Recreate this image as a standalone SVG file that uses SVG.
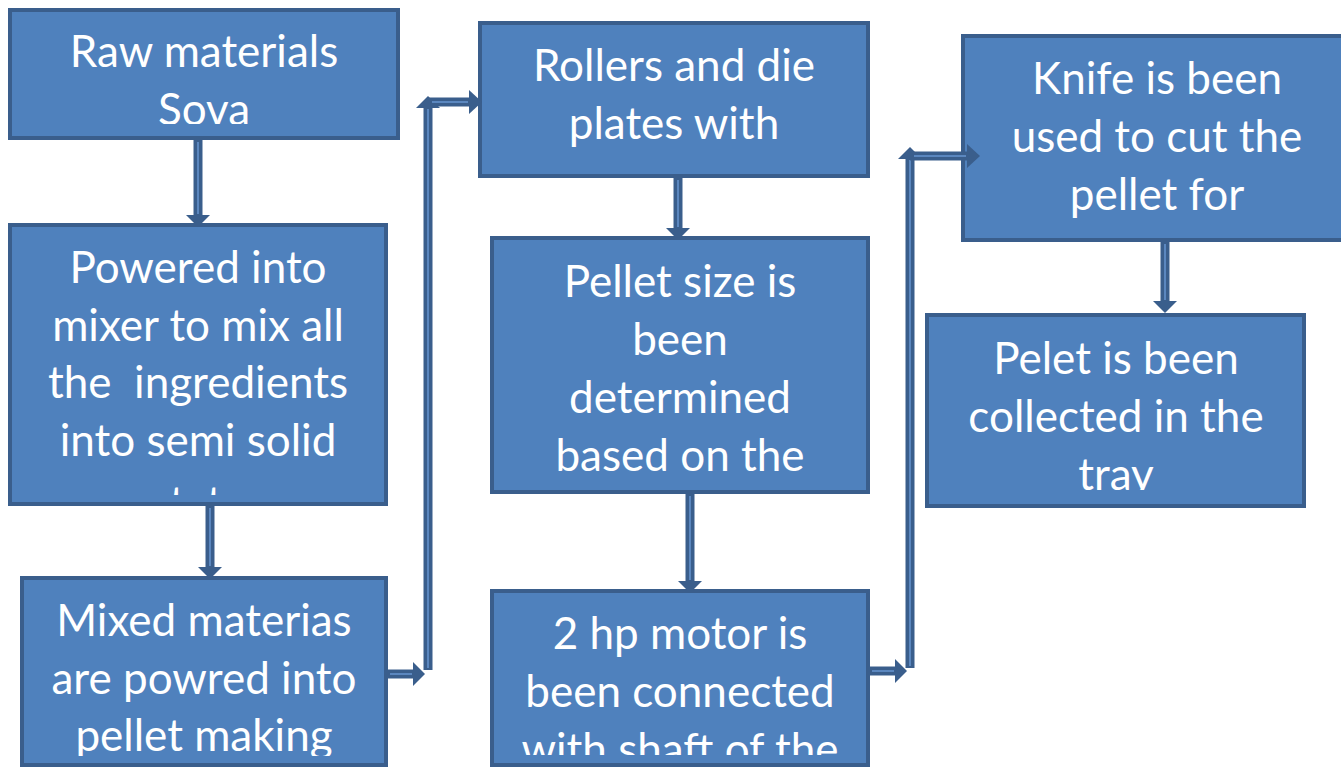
<svg xmlns="http://www.w3.org/2000/svg" width="1341" height="767" viewBox="0 0 1341 767">
<style>
.box{fill:#4F81BD;stroke:#3A5E8C;stroke-width:4}
.t{font-family:Lato,"Open Sans","Liberation Sans",sans-serif;font-size:44px;font-weight:400;fill:#FFFFFF;text-anchor:middle}
.sh{fill:none;stroke:#3A5E8C;stroke-width:9}
.hl{fill:none;stroke:#5B87BF;stroke-width:2}
.hd{fill:#3A5E8C}
</style>
<defs>
<clipPath id="c1"><rect x="10" y="10" width="388" height="114"/></clipPath>
<clipPath id="c2"><rect x="10" y="225" width="376" height="270"/></clipPath>
<clipPath id="c3"><rect x="22" y="578" width="364" height="178"/></clipPath>
<clipPath id="c5"><rect x="492" y="237" width="376" height="245"/></clipPath>
<clipPath id="c6"><rect x="492" y="590" width="376" height="165"/></clipPath>
<clipPath id="c8"><rect x="927" y="314" width="377" height="176"/></clipPath>
</defs>
<rect width="1341" height="767" fill="#FFFFFF"/>
<g id="n1">
<rect class="box" x="10" y="10" width="388" height="128"/>
<g clip-path="url(#c1)"><text class="t" x="204" y="67">Raw materials</text><text class="t" x="204" y="125">Sova</text></g>
</g>
<g id="n2">
<rect class="box" x="10" y="225" width="376" height="279"/>
<g clip-path="url(#c2)"><text class="t" x="198" y="283">Powered into</text><text class="t" x="198" y="341">mixer to mix all</text><text class="t" x="198" y="398" xml:space="preserve">the  ingredients</text><text class="t" x="198" y="456">into semi solid</text><text class="t" x="198" y="518">state</text></g>
</g>
<g id="n3">
<rect class="box" x="22" y="578" width="364" height="187"/>
<g clip-path="url(#c3)"><text class="t" x="204" y="636">Mixed materias</text><text class="t" x="204" y="694">are powred into</text><text class="t" x="204" y="751">pellet making</text></g>
</g>
<g id="n4">
<rect class="box" x="480" y="23" width="388" height="153"/>
<text class="t" x="674" y="81">Rollers and die</text><text class="t" x="674" y="139">plates with</text>
</g>
<g id="n5">
<rect class="box" x="492" y="238" width="376" height="254"/>
<g clip-path="url(#c5)"><text class="t" x="680" y="297">Pellet size is</text><text class="t" x="680" y="355">been</text><text class="t" x="680" y="413">determined</text><text class="t" x="680" y="471">based on the</text></g>
</g>
<g id="n6">
<rect class="box" x="492" y="591" width="376" height="174"/>
<g clip-path="url(#c6)"><text class="t" x="680" y="649">2 hp motor is</text><text class="t" x="680" y="707">been connected</text><text class="t" x="680" y="765">with shaft of the</text></g>
</g>
<g id="n7">
<rect class="box" x="963" y="36" width="390" height="204"/>
<text class="t" x="1157" y="94">Knife is been</text><text class="t" x="1157" y="152">used to cut the</text><text class="t" x="1157" y="210">pellet for</text>
</g>
<g id="n8">
<rect class="box" x="927" y="315" width="377" height="191"/>
<g clip-path="url(#c8)"><text class="t" x="1116" y="374">Pelet is been</text><text class="t" x="1116" y="432">collected in the</text><text class="t" x="1116" y="490">tray</text></g>
</g>
<g id="connectors">
<path class="sh" d="M198 140V216"/><path class="hl" d="M198 142V214"/><polygon class="hd" points="186,215 210,215 198,227"/>
<path class="sh" d="M210 506V568"/><path class="hl" d="M210 508V566"/><polygon class="hd" points="198,567 222,567 210,579"/>
<path class="sh" d="M388 674H414"/><path class="hl" d="M390 674H412"/><polygon class="hd" points="413,662 413,686 425,674"/>
<path class="sh" d="M428 670V107"/><path class="hl" d="M428 668V109"/><polygon class="hd" points="416,108 440,108 428,96"/>
<path class="sh" d="M428 102H470"/><path class="hl" d="M432 102H468"/><polygon class="hd" points="469,90 469,114 482,102"/>
<path class="sh" d="M678 178V229"/><path class="hl" d="M678 180V227"/><polygon class="hd" points="666,228 690,228 678,240"/>
<path class="sh" d="M690 494V582"/><path class="hl" d="M690 496V580"/><polygon class="hd" points="678,581 702,581 690,593"/>
<path class="sh" d="M870 671H896"/><path class="hl" d="M872 671H894"/><polygon class="hd" points="895,659 895,683 907,671"/>
<path class="sh" d="M910 668V158"/><path class="hl" d="M910 666V160"/><polygon class="hd" points="898,159 922,159 910,147"/>
<path class="sh" d="M910 156H968"/><path class="hl" d="M914 156H966"/><polygon class="hd" points="967,144 967,168 980,156"/>
<path class="sh" d="M1165 242V302"/><path class="hl" d="M1165 244V300"/><polygon class="hd" points="1153,301 1177,301 1165,313"/>
</g>
</svg>
